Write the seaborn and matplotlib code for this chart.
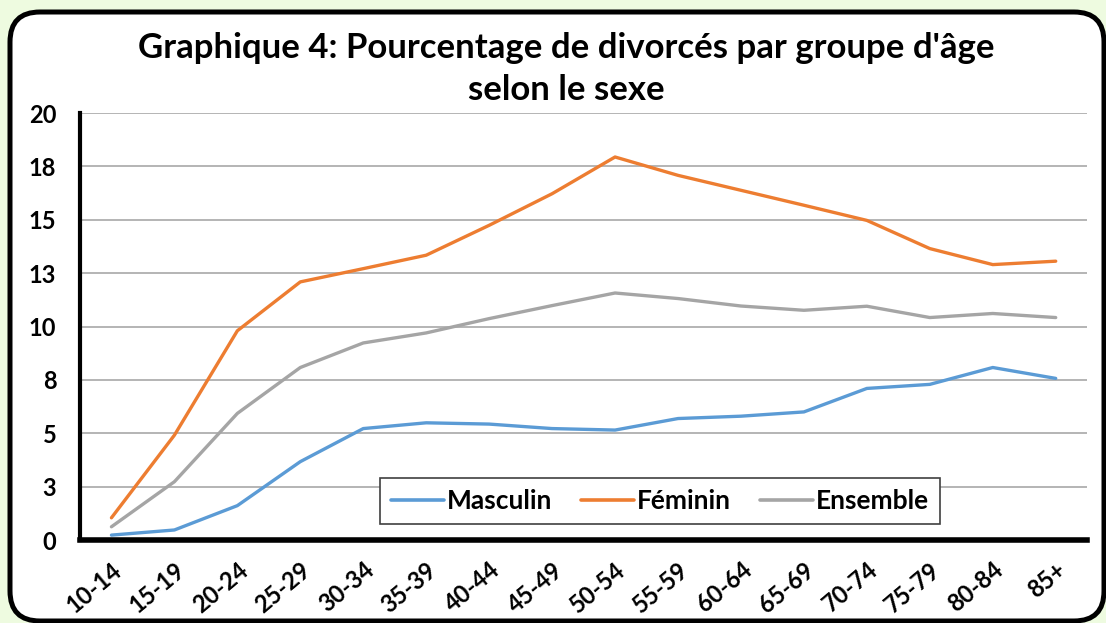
import pandas as pd
import matplotlib.pyplot as plt
import seaborn as sns
from matplotlib.patches import FancyBboxPatch

age_groups = ['10-14', '15-19', '20-24', '25-29', '30-34', '35-39', '40-44', '45-49',
              '50-54', '55-59', '60-64', '65-69', '70-74', '75-79', '80-84', '85+']
masculin = [0.23, 0.47, 1.61, 3.67, 5.22, 5.49, 5.43, 5.22,
            5.15, 5.69, 5.80, 6.00, 7.10, 7.29, 8.08, 7.57]
feminin = [1.04, 4.91, 9.80, 12.09, 12.71, 13.34, 14.74, 16.22,
           17.94, 17.08, 16.38, 15.68, 14.97, 13.65, 12.90, 13.06]
ensemble = [0.62, 2.73, 5.93, 8.08, 9.23, 9.70, 10.37, 10.98,
            11.57, 11.31, 10.96, 10.76, 10.95, 10.42, 10.61, 10.42]
series_names = ['Masculin', 'Féminin', 'Ensemble']
ytick_values = [0, 2.5, 5, 7.5, 10, 12.5, 15, 17.5, 20]
ytick_labels = ['0', '3', '5', '8', '10', '13', '15', '18', '20']

df = pd.DataFrame({'age': age_groups * 3,
                   'pos': list(range(len(age_groups))) * 3,
                   'value': masculin + feminin + ensemble,
                   'serie': [s for s in series_names for _ in age_groups]})

sns.set_style('white')
plt.rcParams['font.family'] = ['Lato', 'DejaVu Sans']
plt.rcParams['font.weight'] = 'bold'
plt.rcParams['text.color'] = 'black'
plt.rcParams['xtick.color'] = 'black'
plt.rcParams['ytick.color'] = 'black'

fig = plt.figure(figsize=(11.06, 6.23), dpi=100)
fig.patch.set_facecolor('#EEFBE0')

# rounded white frame
frame = FancyBboxPatch((0.1, 0.02), 10.94, 6.09, boxstyle='round,pad=0,rounding_size=0.3',
                       transform=fig.dpi_scale_trans, facecolor='white',
                       edgecolor='black', linewidth=3.6, zorder=-5)
fig.patches.append(frame)

ax = fig.add_axes([0.0723, 0.1332, 0.9107, 0.6854])
ax.set_zorder(2)
ax.set_facecolor('none')

palette = {'Masculin': '#5B9BD5', 'Féminin': '#ED7D31', 'Ensemble': '#A5A5A5'}
sns.lineplot(data=df, x='pos', y='value', hue='serie', palette=palette,
             linewidth=2.4, ax=ax, zorder=3)

ax.set_xlim(-0.5, len(age_groups) - 0.5)
ax.set_ylim(0, 20)
ax.set_yticks(ytick_values)
ax.set_yticklabels(ytick_labels, fontsize=17, fontweight='bold')
ax.set_xticks(range(len(age_groups)))
ax.set_xticklabels(age_groups, rotation=40, ha='right', rotation_mode='anchor',
                   fontsize=17, fontweight='bold')
ax.tick_params(axis='y', length=0, pad=17)
ax.tick_params(axis='x', length=0, pad=13)
ax.set_xlabel('')
ax.set_ylabel('')

ax.yaxis.grid(True, color='#A0A0A0', linewidth=1.1)
ax.set_axisbelow(True)
for side in ['top', 'right']:
    ax.spines[side].set_visible(False)
ax.spines['left'].set_linewidth(3)
ax.spines['bottom'].set_linewidth(4)
ax.spines['left'].set_color('black')
ax.spines['bottom'].set_color('black')

leg = ax.legend(loc='center', bbox_to_anchor=(0.576, 0.0913), ncol=3, frameon=True,
                fancybox=False, edgecolor='#404040', handlelength=2.0,
                handletextpad=0.12, columnspacing=1.1, borderpad=0.4,
                borderaxespad=0, prop={'size': 19, 'weight': 'bold'})
leg.get_frame().set_linewidth(1.2)
leg.get_frame().set_alpha(1)
leg.set_zorder(5)
for line in leg.get_lines():
    line.set_linewidth(2.6)

fig.text(566 / 1106, 1 - 48 / 623, "Graphique 4: Pourcentage de divorcés par groupe d'âge",
         ha='center', va='center', fontsize=25, fontweight='bold')
fig.text(566 / 1106, 1 - 90 / 623, 'selon le sexe',
         ha='center', va='center', fontsize=25, fontweight='bold')

plt.savefig('out.png', dpi=100, facecolor=fig.get_facecolor())
